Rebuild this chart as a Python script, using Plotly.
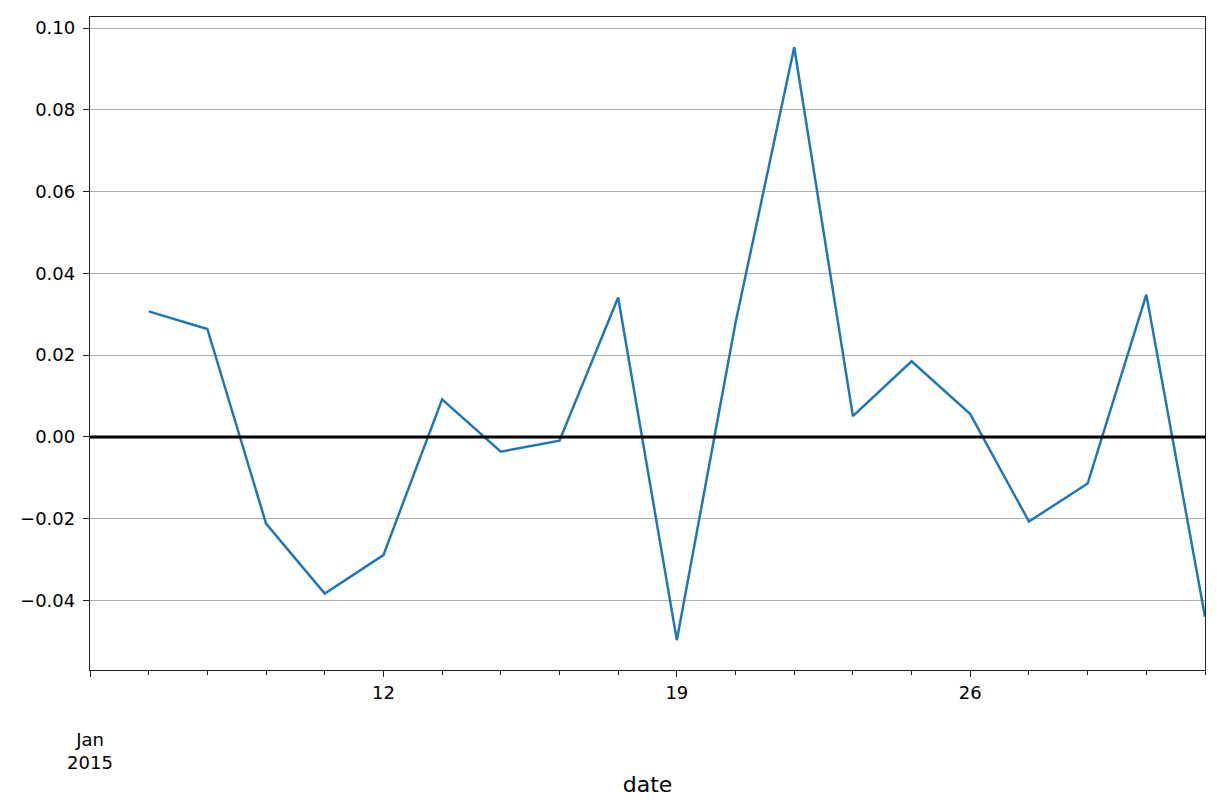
import plotly.graph_objects as go

# business days, Jan 2015 (first value is missing after pct_change)
dates = ["2015-01-06", "2015-01-07", "2015-01-08", "2015-01-09",
         "2015-01-12", "2015-01-13", "2015-01-14", "2015-01-15", "2015-01-16",
         "2015-01-19", "2015-01-20", "2015-01-21", "2015-01-22", "2015-01-23",
         "2015-01-26", "2015-01-27", "2015-01-28", "2015-01-29", "2015-01-30"]
returns = [0.0307, 0.0264, -0.0212, -0.0383,
           -0.0289, 0.0092, -0.0036, -0.0009, 0.0341,
           -0.0497, 0.0279, 0.0953, 0.0051, 0.0185,
           0.0056, -0.0207, -0.0114, 0.0348, -0.0440]

tick_dates = ["2015-01-05", "2015-01-12", "2015-01-19", "2015-01-26"]
tick_labels = ["<br><br>Jan<br>2015", "12", "19", "26"]
y_ticks = [-0.04, -0.02, 0.0, 0.02, 0.04, 0.06, 0.08, 0.10]

fig = go.Figure()
fig.add_trace(go.Scatter(x=dates, y=returns, mode="lines",
                         line=dict(color="#1f77b4", width=2.5)))

# zero reference line drawn on top
fig.add_hline(y=0, line_color="black", line_width=3, layer="above")

# page body has an 8px margin, so margins are shifted to compensate
fig.update_layout(
    width=1223, height=810,
    margin=dict(l=82, r=26, t=9, b=148),
    plot_bgcolor="white", paper_bgcolor="white",
    showlegend=False,
    font=dict(family="DejaVu Sans", size=18, color="black"),
)

fig.update_xaxes(
    range=["2015-01-05", "2015-01-30"],
    rangebreaks=[dict(bounds=["sat", "mon"])],
    tickvals=tick_dates, ticktext=tick_labels,
    ticks="outside", ticklen=6, tickwidth=1.2, tickcolor="#222",
    minor=dict(dtick=86400000, tick0="2015-01-05", ticks="outside",
               ticklen=4, tickwidth=1, tickcolor="#222", showgrid=False),
    showgrid=False, showline=True, linecolor="#222", linewidth=1.3, mirror=True,
    title=dict(text="date", standoff=4),
)

fig.update_yaxes(
    range=[-0.0570, 0.1027],
    tickvals=y_ticks,
    tickformat=".2f",
    ticks="outside", ticklen=6, tickwidth=1.2, tickcolor="#222",
    ticklabelstandoff=4,
    showgrid=True, gridcolor="#b0b0b0", gridwidth=1.4,
    zeroline=False,
    showline=True, linecolor="#222", linewidth=1.3, mirror=True,
)

fig.write_html("out.html")
